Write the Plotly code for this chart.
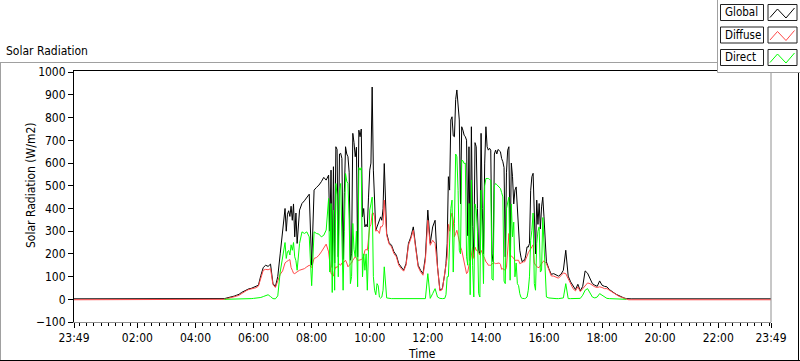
import plotly.graph_objects as go
import pandas as pd

# ---------------- data (W/m2) ----------------
# main series: 5-minute samples from 04:50 to 19:00
night_global = 2
night_diffuse = -2

global_0450_0715 = [2, 2, 3, 6, 8, 10, 14, 18, 22, 30, 36, 42, 46, 48, 52, 55, 62, 105, 140, 150, 145,
                    155, 70, 55, 100, 200, 290, 400, 375, 365]
global_0720_0940 = [348, 275, 246, 393, 422, 434, 451, 463, 150, 481, 493, 503, 518, 537, 525, 547, 569,
                    584, 672, 187, 643, 175, 672, 628, 172, 731, 628, 187, 716]
global_0945_1205 = [363, 319, 319, 569, 935, 393, 319, 348, 348, 598, 290, 249, 238, 209, 194, 157, 143,
                    128, 157, 246, 275, 319, 231, 150, 128, 113, 187, 393, 246]
global_1210_1430 = [319, 348, 143, 40, 47, 113, 246, 481, 804, 716, 922, 790, 760, 723, 701, 672, 760,
                    187, 672, 215, 731, 200, 760, 657, 657, 165, 657, 660, 650]
global_1435_1655 = [606, 187, 657, 216, 540, 481, 393, 216, 165, 172, 231, 246, 540, 348, 437, 422, 407,
                    363, 165, 135, 110, 113, 106, 102, 110, 128, 216, 102, 77]
global_1700_1900 = [62, 43, 66, 37, 57, 125, 115, 91, 69, 62, 57, 81, 62, 57, 55, 43, 37, 28, 21, 15,
                    10, 6, 3, 2, 2]

diffuse_0450_0715 = [-2, -1, 0, 3, 5, 7, 10, 14, 18, 26, 32, 38, 43, 45, 48, 51, 58, 98, 128, 132, 130,
                     135, 65, 52, 85, 110, 125, 160, 170, 175]
diffuse_0720_0940 = [128, 113, 121, 128, 131, 135, 143, 150, 140, 180, 184, 194, 209, 228, 243, 209, 113,
                     102, 143, 150, 150, 160, 172, 143, 154, 172, 187, 172, 172]
diffuse_0945_1205 = [180, 216, 216, 319, 378, 363, 304, 290, 319, 437, 282, 243, 231, 201, 187, 150, 135,
                     124, 150, 238, 268, 304, 224, 143, 121, 106, 172, 348, 238]
diffuse_1210_1430 = [260, 246, 135, 37, 43, 106, 187, 300, 380, 275, 304, 246, 216, 157, 113, 150, 187,
                     180, 216, 205, 216, 190, 165, 150, 150, 160, 157, 160, 154]
diffuse_1435_1655 = [135, 128, 246, 187, 187, 172, 172, 157, 160, 165, 190, 216, 231, 160, 143, 140, 157,
                     169, 157, 131, 103, 102, 96, 93, 104, 116, 113, 93, 69]
diffuse_1700_1900 = [47, 37, 55, 34, 47, 62, 72, 69, 62, 55, 52, 55, 52, 47, 47, 40, 32, 25, 19, 13,
                     9, 5, 1, -2, -2]

direct_0450_0715 = [None, None, 0, 0, 0, 0, 0, 0, 0, 1, 1, 2, 3, 3, 4, 5, 6, 8, 12, 16, 20,
                    12, 3, 2, 15, 120, 190, 250, 210, 195]
direct_0720_0940 = [216, 187, 128, 246, 297, 290, 297, 275, 60, 297, 290, 287, 275, 282, 305, 444, 422,
                    393, 510, 99, 510, 40, 554, 510, 69, 334, 187, 55, 569]
direct_0945_1205 = [99, 128, 40, 393, 450, 40, 69, 10, 10, 143, 6, 3, 3, 3, 3, 6, 4, 3, 3, 4, 6, 6,
                    3, 4, 3, 3, 3, 113, 4]
direct_1210_1430 = [25, 47, 10, 4, 3, 4, 99, 304, 437, 334, 628, 216, 613, 598, 187, 422, 525, 10, 393,
                    25, 481, 69, 532, 532, 525, 84, 510, 498, 488]
direct_1435_1655 = [451, 69, 422, 84, 275, 99, 69, 25, 4, 3, 10, 99, 304, 69, 246, 319, 128, 246, 10,
                    6, 4, 3, 3, 3, 4, 6, 69, 3, 3]
direct_1700_1900 = [4, 4, 4, 4, 18, 40, 47, 28, 10, 6, 10, 25, 18, 13, 4, 3, 3, 3, 3, 2, 1, 1, 0,
                    None, None]

# extra in-between samples (every 5 min, offset 2.5 min) in the cloudy, spiky periods
global_x0702 = [340, 300, 390, 410, 420, 380]
diffuse_x0702 = [140, 165, 172, 140, 115, 118]
direct_x0702 = [230, 180, 215, 240, 250, 170]

global_x0837 = [300, 140, 160, 660, 640, 620, 470, 640, 560, 200, 690, 670, 745,
                750, 400, 330, 450, 600, 569, 304, 334, 363, 400]
diffuse_x0837 = [150, 110, 130, 140, 155, 160, 165, 160, 150, 160, 180, 180, 172,
                 175, 190, 220, 260, 330, 380, 300, 300, 320, 330]
direct_x0837 = [120, 30, 40, 460, 480, 190, 300, 520, 350, 100, 220, 300, 580,
                580, 200, 200, 220, 420, 100, 20, 60, 5, 40]

global_x1237 = [157, 540, 790, 720, 880, 840, 420, 745, 716, 280, 170, 320, 690, 400, 200, 400, 600,
                672, 665, 200, 640, 640, 655,
                620, 580, 560, 672, 600, 420, 495, 350, 185, 172, 195, 230, 480, 555, 200, 330, 310, 450]
diffuse_x1237 = [150, 330, 360, 350, 290, 280, 230, 190, 130, 120, 160, 230, 230, 215, 195, 200, 180,
                 160, 150, 155, 160, 158, 160,
                 132, 130, 140, 290, 190, 180, 172, 172, 160, 165, 175, 205, 225, 240, 150, 140, 150, 165]
direct_x1237 = [20, 100, 400, 120, 640, 480, 200, 610, 600, 150, 20, 150, 420, 300, 10, 250, 500,
                532, 528, 90, 500, 505, 490,
                470, 80, 400, 450, 420, 340, 160, 60, 8, 3, 5, 40, 260, 380, 40, 300, 120, 360]

start_time = "2000-01-01 23:49"
end_time = "2000-01-02 23:49"

x_tick_vals = [start_time, "2000-01-02 02:00", "2000-01-02 04:00", "2000-01-02 06:00",
               "2000-01-02 08:00", "2000-01-02 10:00", "2000-01-02 12:00", "2000-01-02 14:00",
               "2000-01-02 16:00", "2000-01-02 18:00", "2000-01-02 20:00", "2000-01-02 22:00", end_time]
x_tick_text = ["23:49", "02:00", "04:00", "06:00", "08:00", "10:00", "12:00", "14:00", "16:00",
               "18:00", "20:00", "22:00", "23:49"]
y_tick_vals = [-100, 0, 100, 200, 300, 400, 500, 600, 700, 800, 900, 1000]
series_names = ["Global", "Diffuse", "Direct"]
series_colors = ["#000000", "#ff4848", "#00ff00"]

# ---------------- assemble the sample table ----------------
main = pd.DataFrame({
    "time": pd.date_range("2000-01-02 04:50", "2000-01-02 19:00", freq="5min"),
    "Global": global_0450_0715 + global_0720_0940 + global_0945_1205 + global_1210_1430 +
              global_1435_1655 + global_1700_1900,
    "Diffuse": diffuse_0450_0715 + diffuse_0720_0940 + diffuse_0945_1205 + diffuse_1210_1430 +
               diffuse_1435_1655 + diffuse_1700_1900,
    "Direct": direct_0450_0715 + direct_0720_0940 + direct_0945_1205 + direct_1210_1430 +
              direct_1435_1655 + direct_1700_1900,
})
extras = []
for t0, g, d, r in [("2000-01-02 07:02:30", global_x0702, diffuse_x0702, direct_x0702),
                    ("2000-01-02 08:37:30", global_x0837, diffuse_x0837, direct_x0837),
                    ("2000-01-02 12:37:30", global_x1237, diffuse_x1237, direct_x1237)]:
    extras.append(pd.DataFrame({"time": pd.date_range(t0, periods=len(g), freq="5min"),
                                "Global": g, "Diffuse": d, "Direct": r}))
night = pd.DataFrame({"time": pd.to_datetime([start_time, end_time]),
                      "Global": [night_global, night_global],
                      "Diffuse": [night_diffuse, night_diffuse],
                      "Direct": [None, None]})
data = pd.concat([night, main] + extras).sort_values("time").reset_index(drop=True)
data["Direct"] = pd.to_numeric(data["Direct"])

# ---------------- layout helpers (pixel -> paper) ----------------
W, H = 800, 361
L, R, T, B = 74, 771, 70, 322
FONT = "DejaVu Sans Condensed, Liberation Sans, Arial, sans-serif"


def px(x):
    return (x - L) / (R - L)


def py(y):
    return (B - y) / (B - T)


fig = go.Figure()
for name, col in zip(series_names, series_colors):
    fig.add_trace(go.Scatter(x=data["time"], y=data[name], mode="lines", name=name,
                             line=dict(color=col, width=1), connectgaps=False,
                             showlegend=False))

shapes = []


def line(x0, y0, x1, y1, color, w=1):
    shapes.append(dict(type="line", xref="paper", yref="paper", x0=px(x0), y0=py(y0),
                       x1=px(x1), y1=py(y1), line=dict(color=color, width=w), layer="above"))


# outer frame
line(0, 62.5, 717, 62.5, "#a0a0a0")
line(0.5, 62.5, 0.5, 360.5, "#a0a0a0")
line(0, 360.5, 800, 360.5, "#000000")
line(798.5, 72, 798.5, 361, "#000000")
# plot frame top / right
line(74, 70.5, 717, 70.5, "#000000")
line(771, 72, 771, 322, "#909090")
# legend panel edges
line(717.5, 0, 717.5, 72.5, "#a0a0a0")
line(717.5, 72.5, 800, 72.5, "#a0a0a0")

annotations = []
row_top = [4.5, 27, 49.5]
for i, (name, col) in enumerate(zip(series_names, series_colors)):
    y0 = row_top[i]
    shapes.append(dict(type="rect", xref="paper", yref="paper", x0=px(720.5), x1=px(763.5),
                       y0=py(y0), y1=py(y0 + 16), line=dict(color="#202020", width=1),
                       fillcolor="white", layer="above"))
    shapes.append(dict(type="rect", xref="paper", yref="paper", x0=px(768), x1=px(797),
                       y0=py(y0), y1=py(y0 + 16), line=dict(color="#202020", width=1),
                       fillcolor="white", layer="above"))
    pts = [(770, y0 + 13), (777.5, y0 + 4.5), (786, y0 + 13.5), (794.5, y0 + 3.5)]
    path = "M " + " L ".join(f"{px(a):.5f},{py(b):.5f}" for a, b in pts)
    shapes.append(dict(type="path", xref="paper", yref="paper", path=path,
                       line=dict(color=col, width=1), layer="above"))
    annotations.append(dict(text=name, xref="paper", yref="paper", x=px(722.5), y=py(y0 + 8),
                            xanchor="left", yanchor="middle", showarrow=False,
                            font=dict(family=FONT, size=11.5, color="#000000")))

annotations.append(dict(text="Solar Radiation", xref="paper", yref="paper", x=px(4), y=py(51),
                        xanchor="left", yanchor="middle", showarrow=False,
                        font=dict(family=FONT, size=12, color="#000000")))
annotations.append(dict(text="Solar Radiation (W/m2)", xref="paper", yref="paper", x=px(31),
                        y=py(185), xanchor="center", yanchor="middle", textangle=-90,
                        showarrow=False, font=dict(family=FONT, size=12, color="#000000")))
annotations.append(dict(text="Time", xref="paper", yref="paper", x=px(422), y=py(354),
                        xanchor="center", yanchor="middle", showarrow=False,
                        font=dict(family=FONT, size=12, color="#000000")))

fig.update_layout(
    width=W, height=H,
    margin=dict(l=L, r=W - R, t=T, b=H - B, pad=0),
    paper_bgcolor="white", plot_bgcolor="white",
    font=dict(family=FONT, size=12, color="#000000"),
    shapes=shapes, annotations=annotations,
    showlegend=False,
    xaxis=dict(type="date", range=[start_time, end_time], tickmode="array",
               tickvals=x_tick_vals, ticktext=x_tick_text, ticks="outside", ticklen=5,
               tickcolor="#000000", showline=True, linecolor="#909090", linewidth=1,
               showgrid=False, zeroline=False, automargin=False,
               tickfont=dict(family=FONT, size=12, color="#000000"),
               minor=dict(ticks="outside", ticklen=3, tickcolor="#000000",
                          dtick=15 * 60 * 1000, tick0="2000-01-02 00:00", showgrid=False)),
    yaxis=dict(range=[-100, 1010], tickmode="array", tickvals=y_tick_vals, ticks="outside",
               ticklen=5, tickcolor="#000000", showline=True, linecolor="#000000", linewidth=1,
               showgrid=False, zeroline=False, automargin=False,
               tickfont=dict(family=FONT, size=12, color="#000000")),
)

fig.write_html("out.html", config={"displayModeBar": False},
               post_script="document.body.style.margin='0';document.body.style.overflow='hidden';")
